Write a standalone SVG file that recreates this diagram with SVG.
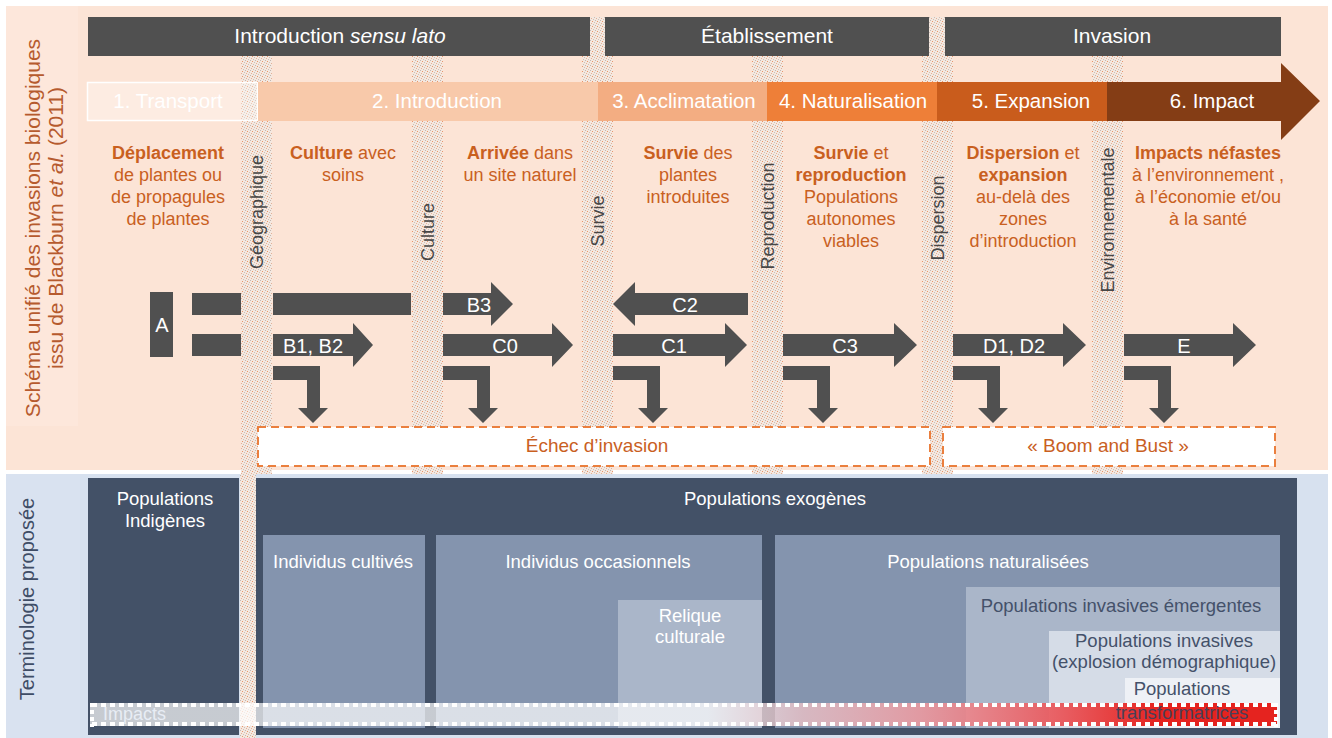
<svg xmlns="http://www.w3.org/2000/svg" width="1332" height="738" viewBox="0 0 1332 738">
<defs>
<pattern id="hatch" width="5" height="5" patternUnits="userSpaceOnUse">
<rect width="5" height="5" fill="#f4e8e0"/>
<rect x="0" y="0" width="1" height="1" fill="#c4b6ae"/>
<rect x="2" y="1" width="1" height="1" fill="#e9956a"/>
<rect x="4" y="2" width="1" height="1" fill="#cdbfb7"/>
<rect x="1" y="3" width="1" height="1" fill="#e4b096"/>
<rect x="3" y="4" width="1" height="1" fill="#cdbfb7"/>
</pattern>
<linearGradient id="impGrad" gradientUnits="userSpaceOnUse" x1="90" y1="0" x2="1278" y2="0">
<stop offset="0" stop-color="#ffffff" stop-opacity="0.7"/>
<stop offset="0.52" stop-color="#ffffff" stop-opacity="0.7"/>
<stop offset="0.6" stop-color="#f2c4c8" stop-opacity="0.75"/>
<stop offset="0.7" stop-color="#ee9aa0" stop-opacity="0.88"/>
<stop offset="0.82" stop-color="#e9565a" stop-opacity="0.95"/>
<stop offset="0.9" stop-color="#e5231f" stop-opacity="1"/>
<stop offset="1" stop-color="#e5231f" stop-opacity="1"/>
</linearGradient>
<style>
text{font-family:"Liberation Sans",Arial,sans-serif;}
.bar{fill:#505050;}
.hdr{font-size:21px;fill:#ffffff;text-anchor:middle;}
.stg{font-size:20.5px;fill:#ffffff;text-anchor:middle;}
.desc{font-size:18px;fill:#c9601f;text-anchor:middle;}
.desc .b{font-weight:bold;}
.vlab{font-size:18px;fill:#474747;text-anchor:middle;}
.arr{fill:#505050;}
.at{font-size:20px;fill:#ffffff;text-anchor:middle;}
.dash{fill:#ffffff;stroke:#ea7f3e;stroke-width:2;stroke-dasharray:8 5;}
.dt{font-size:19px;fill:#c9601f;text-anchor:middle;}
.dark{fill:#435167;}
.mid{fill:#8494ae;}
.lt1{fill:#aab6c9;}
.lt2{fill:#d5dce7;}
.lt3{fill:#eef1f6;}
.bt{font-size:18.5px;fill:#ffffff;text-anchor:middle;}
.btd{font-size:18.5px;fill:#44516a;text-anchor:middle;}
.dots{stroke:#ffffff;stroke-width:4;stroke-dasharray:5 4;fill:none;}
</style>
</defs>

<rect width="1332" height="738" fill="#ffffff"/>
<!-- top peach section -->
<rect x="6" y="6" width="1322" height="464" fill="#fce4d6"/>
<rect x="6" y="6" width="72" height="420" fill="#fde7db"/>
<!-- bottom blue section -->
<rect x="6" y="474" width="1322" height="264" fill="#d7e1ef"/>
<rect x="6" y="474" width="74" height="264" fill="#d9e2f0"/>

<!-- side labels -->
<g id="label-left">
<text transform="translate(40,228) rotate(-90)" style="font-size:21px;fill:#b65a2e;text-anchor:middle;">Schéma unifié des invasions biologiques</text>
<text transform="translate(63,228) rotate(-90)" style="font-size:21px;fill:#b65a2e;text-anchor:middle;">issu de Blackburn <tspan font-style="italic">et al.</tspan> (2011)</text>
</g>
<g id="label-terminologie">
<text transform="translate(34,599) rotate(-90)" style="font-size:20px;fill:#3f4d66;text-anchor:middle;">Terminologie proposée</text>
</g>

<!-- hatched barrier strips -->
<g id="strips" fill="url(#hatch)">
<rect x="241" y="17" width="31" height="457"/>
<rect x="240" y="474" width="16" height="264"/>
<rect x="412" y="17" width="31" height="457"/>
<rect x="582" y="17" width="31" height="457"/>
<rect x="752" y="17" width="31" height="457"/>
<rect x="922" y="17" width="31" height="457"/>
<rect x="1092" y="17" width="31" height="457"/>
</g>

<!-- top phase bars -->
<g id="phase-introduction">
<rect class="bar" x="88" y="17" width="502" height="39"/>
<text class="hdr" x="340" y="43">Introduction <tspan font-style="italic">sensu lato</tspan></text>
</g>
<g id="phase-etablissement">
<rect class="bar" x="605" y="17" width="324" height="39"/>
<text class="hdr" x="767" y="43">Établissement</text>
</g>
<g id="phase-invasion">
<rect class="bar" x="945" y="17" width="336" height="39"/>
<text class="hdr" x="1112" y="43">Invasion</text>
</g>

<!-- stage arrow row -->
<g id="stage-1">
<rect x="87.5" y="82.5" width="170" height="38" fill="#ffffff" fill-opacity="0.3" stroke="#ffffff" stroke-width="1.5"/>
<text class="stg" x="168" y="108">1. Transport</text>
</g>
<g id="stage-2">
<rect x="258" y="82" width="340" height="39" fill="#f8c9aa"/>
<text class="stg" x="437" y="108">2. Introduction</text>
</g>
<g id="stage-3">
<rect x="598" y="82" width="169" height="39" fill="#f3ad82"/>
<text class="stg" x="684" y="108">3. Acclimatation</text>
</g>
<g id="stage-4">
<rect x="767" y="82" width="170" height="39" fill="#ee7f38"/>
<text class="stg" x="853" y="108">4. Naturalisation</text>
</g>
<g id="stage-5">
<rect x="937" y="82" width="170" height="39" fill="#c95c1c"/>
<text class="stg" x="1031" y="108">5. Expansion</text>
</g>
<g id="stage-6">
<polygon points="1107,82 1281,82 1281,63 1320,101 1281,140 1281,121 1107,121" fill="#843d15"/>
<text class="stg" x="1212" y="108">6. Impact</text>
</g>

<!-- descriptions -->
<g id="desc-1">
<text class="desc" x="168" y="159"><tspan class="b">Déplacement</tspan></text>
<text class="desc" x="168" y="181">de plantes ou</text>
<text class="desc" x="168" y="203">de propagules</text>
<text class="desc" x="168" y="225">de plantes</text>
</g>
<g id="desc-2">
<text class="desc" x="343" y="159"><tspan class="b">Culture</tspan> avec</text>
<text class="desc" x="343" y="181">soins</text>
</g>
<g id="desc-3">
<text class="desc" x="520" y="159"><tspan class="b">Arrivée</tspan> dans</text>
<text class="desc" x="520" y="181">un site naturel</text>
</g>
<g id="desc-4">
<text class="desc" x="688" y="159"><tspan class="b">Survie</tspan> des</text>
<text class="desc" x="688" y="181">plantes</text>
<text class="desc" x="688" y="203">introduites</text>
</g>
<g id="desc-5">
<text class="desc" x="851" y="159"><tspan class="b">Survie</tspan> et</text>
<text class="desc" x="851" y="181"><tspan class="b">reproduction</tspan></text>
<text class="desc" x="851" y="203">Populations</text>
<text class="desc" x="851" y="225">autonomes</text>
<text class="desc" x="851" y="247">viables</text>
</g>
<g id="desc-6">
<text class="desc" x="1023" y="159"><tspan class="b">Dispersion</tspan> et</text>
<text class="desc" x="1023" y="181"><tspan class="b">expansion</tspan></text>
<text class="desc" x="1023" y="203">au-delà des</text>
<text class="desc" x="1023" y="225">zones</text>
<text class="desc" x="1023" y="247">d’introduction</text>
</g>
<g id="desc-7">
<text class="desc" x="1208" y="159"><tspan class="b">Impacts néfastes</tspan></text>
<text class="desc" x="1208" y="181">à l’environnement ,</text>
<text class="desc" x="1208" y="203">à l’économie et/ou</text>
<text class="desc" x="1208" y="225">à la santé</text>
</g>

<!-- barrier labels -->
<g id="barrier-labels">
<text class="vlab" transform="translate(263,212) rotate(-90)">Géographique</text>
<text class="vlab" transform="translate(434,232) rotate(-90)">Culture</text>
<text class="vlab" transform="translate(604,221) rotate(-90)">Survie</text>
<text class="vlab" transform="translate(774,216) rotate(-90)">Reproduction</text>
<text class="vlab" transform="translate(944,218) rotate(-90)">Dispersion</text>
<text class="vlab" transform="translate(1114,220) rotate(-90)">Environnementale</text>
</g>

<!-- node A -->
<g id="node-A">
<rect class="arr" x="150" y="292" width="23" height="65"/>
<text class="at" x="162" y="332">A</text>
</g>

<!-- connectors -->
<g id="connectors" class="arr">
<rect x="192" y="293" width="49" height="22"/>
<rect x="273" y="293" width="138" height="22"/>
<rect x="192" y="334" width="49" height="22"/>
<polygon points="273,334 353,334 353,323 373,345 353,367 353,356 273,356"/>
<polygon points="443,293 491,293 491,282 513,304 491,326 491,315 443,315"/>
<polygon points="443,334 552,334 552,323 573,345 552,367 552,356 443,356"/>
<polygon points="748,293 635,293 635,282 613,304 635,326 635,315 748,315"/>
<polygon points="613,334 725,334 725,323 747,345 725,367 725,356 613,356"/>
<polygon points="783,334 894,334 894,323 917,345 894,367 894,356 783,356"/>
<polygon points="953,334 1063,334 1063,323 1086,345 1063,367 1063,356 953,356"/>
<polygon points="1124,334 1233,334 1233,323 1256,345 1233,367 1233,356 1124,356"/>
<polygon points="273,366 320,366 320,408 328,408 313,423 298,408 307,408 307,380 273,380"/>
<polygon points="443,366 490,366 490,408 498,408 483,423 468,408 477,408 477,380 443,380"/>
<polygon points="613,366 660,366 660,408 668,408 653,423 638,408 647,408 647,380 613,380"/>
<polygon points="783,366 830,366 830,408 838,408 823,423 808,408 817,408 817,380 783,380"/>
<polygon points="953,366 1000,366 1000,408 1008,408 993,423 978,408 987,408 987,380 953,380"/>
<polygon points="1124,366 1171,366 1171,408 1179,408 1164,423 1149,408 1158,408 1158,380 1124,380"/>
</g>
<g id="connector-labels">
<text class="at" x="313" y="353">B1, B2</text>
<text class="at" x="479" y="312">B3</text>
<text class="at" x="505" y="353">C0</text>
<text class="at" x="685" y="312">C2</text>
<text class="at" x="674" y="353">C1</text>
<text class="at" x="845" y="353">C3</text>
<text class="at" x="1014" y="353">D1, D2</text>
<text class="at" x="1184" y="353">E</text>
</g>

<!-- outcome boxes -->
<g id="echec">
<rect class="dash" x="258" y="427" width="672" height="39"/>
<text class="dt" x="597" y="452">Échec d’invasion</text>
</g>
<g id="boom">
<rect class="dash" x="943" y="427" width="332" height="39"/>
<text class="dt" x="1108" y="452">« Boom and Bust »</text>
</g>

<!-- terminology -->
<g id="pop-indigenes">
<rect class="dark" x="88" y="478" width="151" height="257"/>
<text class="bt" x="165" y="505">Populations</text>
<text class="bt" x="165" y="527">Indigènes</text>
</g>
<g id="pop-exogenes">
<rect class="dark" x="256" y="478" width="1041" height="257"/>
<text class="bt" x="775" y="505">Populations exogènes</text>
</g>
<g id="ind-cultives">
<rect class="mid" x="263" y="535" width="162" height="193"/>
<text class="bt" x="343" y="568">Individus cultivés</text>
</g>
<g id="ind-occasionnels">
<rect class="mid" x="436" y="535" width="326" height="193"/>
<text class="bt" x="598" y="568">Individus occasionnels</text>
</g>
<g id="relique">
<rect class="lt1" x="618" y="600" width="144" height="128"/>
<text class="bt" x="690" y="622">Relique</text>
<text class="bt" x="690" y="643">culturale</text>
</g>
<g id="pop-naturalisees">
<rect class="mid" x="775" y="535" width="505" height="193"/>
<text class="bt" x="988" y="568">Populations naturalisées</text>
</g>
<g id="pop-emergentes">
<rect class="lt1" x="966" y="587" width="314" height="141"/>
<text class="btd" x="1121" y="612">Populations invasives émergentes</text>
</g>
<g id="pop-invasives">
<rect class="lt2" x="1049" y="631" width="231" height="97"/>
<text class="btd" x="1164" y="647">Populations invasives</text>
<text class="btd" x="1164" y="668">(explosion démographique)</text>
</g>
<g id="pop-transformatrices">
<rect class="lt3" x="1125" y="678" width="155" height="50"/>
<text class="btd" x="1182" y="695">Populations</text>
</g>

<!-- impacts band -->
<g id="impacts">
<rect x="90" y="703" width="1187" height="23" fill="url(#impGrad)"/>
<line class="dots" x1="92" y1="705" x2="1277" y2="705"/>
<line class="dots" x1="92" y1="724" x2="1277" y2="724"/>
<line class="dots" x1="92" y1="703" x2="92" y2="727" style="stroke-dasharray:4 3"/>
<line class="dots" x1="1276" y1="703" x2="1276" y2="727" style="stroke-dasharray:4 3"/>
<text x="103" y="720" style="font-size:18px;fill:#e8edf5;">Impacts</text>
<text class="btd" x="1182" y="719" style="fill:#4b3f58;">transformatrices</text>
</g>
</svg>
